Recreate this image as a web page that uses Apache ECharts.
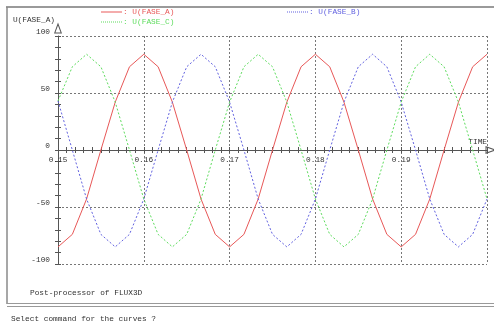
<!DOCTYPE html>
<html><head><meta charset="utf-8">
<script src="https://cdn.jsdelivr.net/npm/echarts@6/dist/echarts.min.js"></script>
<style>html,body{margin:0;padding:0;background:#fff}#c{width:494px;height:326px}</style>
</head><body><div id="c"></div>
<script>
// Sample times (s)
const times = [0.15,0.15167,0.15333,0.155,0.15667,0.15833,0.16,0.16167,0.16333,0.165,0.16667,0.16833,
  0.17,0.17167,0.17333,0.175,0.17667,0.17833,0.18,0.18167,0.18333,0.185,0.18667,0.18833,
  0.19,0.19167,0.19333,0.195,0.19667,0.19833,0.2];
// Phase voltages
const faseA = [-85,-74,-43,0,42,73,84,73,42,0,-43,-74,-85,-74,-43,0,42,73,84,73,42,0,-43,-74,-85,-74,-43,0,42,73,84];
const faseB = [43,0,-43,-74,-85,-74,-43,0,42,73,84,73,42,0,-43,-74,-85,-74,-43,0,42,73,84,73,42,0,-43,-74,-85,-74,-43];
const faseC = [43,73,84,73,42,0,-43,-74,-85,-74,-43,0,42,73,84,73,42,0,-43,-74,-85,-74,-43,0,42,73,84,73,42,0,-43];
const seriesNames = ['U(FASE_A)','U(FASE_B)','U(FASE_C)'];
const xRange = [0.15, 0.20], xStep = 0.01;
const yRange = [-100, 100], yStep = 50;
const xTitle = 'TIME', yTitle = 'U(FASE_A)';
const footer1 = 'Post-processor of FLUX3D';
const footer2 = 'Select command for the curves ?';

const MONO = '"Liberation Mono","DejaVu Sans Mono",monospace';
const FS = 7.8;
const TXT = '#333';
const AX = '#555';
const RED = '#e85858', GREEN = '#5edc5e', BLUE = '#6262e0';
const dash11 = 'path://M0,0h1v1h-1zM2,0h1v1h-1zM4,0h1v1h-1zM6,0h1v1h-1zM8,0h1v1h-1zM10,0h1v1h-1zM12,0h1v1h-1zM14,0h1v1h-1zM16,0h1v1h-1zM18,0h1v1h-1zM20,0h1v1h-1z';
const hollowArrow = 'path://M4,0L8,11L0,11Z M4,2.9L1.43,10L6.57,10Z';

// grid layout
const G = {left:58, right:7, top:36, bottom:62};
const plotH = 326 - G.top - G.bottom;
// x axis sits at y = 0 of the value range
const xAxisOffset = -plotH * (0 - yRange[0]) / (yRange[1] - yRange[0]);

function pairs(vals){ return times.map((t,i)=>[t, vals[i]]); }
function legend(name, color, icon, left, top){
  return {
    show:true, left:left, top:top, orient:'horizontal', selectedMode:false,
    itemWidth:21, itemHeight:1, symbolKeepAspect:false, padding:0,
    data:[{name:name, icon:icon, itemStyle:{color:color}, textStyle:{color:color}}],
    formatter: ': {name}',
    textStyle:{fontFamily:MONO, fontSize:FS, color:color, padding:[0,0,0,-4]}
  };
}
const chart = echarts.init(document.getElementById('c'), null, {renderer:'canvas'});
chart.setOption({
  animation:false,
  backgroundColor:'#fff',
  grid:{left:G.left, right:G.right, top:G.top, bottom:G.bottom, containLabel:false},
  legend:[
    legend(seriesNames[0], RED, 'rect', 101, 8),
    legend(seriesNames[2], GREEN, dash11, 101, 18),
    legend(seriesNames[1], BLUE, dash11, 287, 8)
  ],
  xAxis:[{
    type:'value', min:xRange[0], max:xRange[1], interval:xStep, position:'bottom', offset:xAxisOffset,
    axisLine:{show:true, onZero:false, lineStyle:{color:AX, width:1},
      symbol:['none',hollowArrow], symbolSize:[8,11], symbolOffset:[0,4]},
    axisTick:{show:true, inside:false, length:3, lineStyle:{color:AX}},
    minorTick:{show:true, splitNumber:10, length:3, lineStyle:{color:AX}},
    axisLabel:{show:true, fontFamily:MONO, fontSize:FS, color:TXT, margin:6, showMaxLabel:false, showMinLabel:true, hideOverlap:false},
    splitLine:{show:true, lineStyle:{type:[2,2], color:'#777', width:1}},
    minorSplitLine:{show:false},
    name:xTitle, nameLocation:'end', nameGap:0,
    nameTextStyle:{fontFamily:MONO, fontSize:FS, color:TXT, align:'right', verticalAlign:'bottom', padding:[0,0,4,0]}
  },{
    type:'value', min:xRange[0], max:xRange[1], interval:xStep, position:'bottom', offset:xAxisOffset,
    axisLine:{show:false, onZero:false},
    axisTick:{show:true, inside:true, length:3, lineStyle:{color:AX}},
    minorTick:{show:true, splitNumber:10, length:3, lineStyle:{color:AX}},
    axisLabel:{show:false}, splitLine:{show:false}
  }],
  yAxis:[{
    type:'value', min:yRange[0], max:yRange[1], interval:yStep, position:'left',
    axisLine:{show:true, onZero:false, lineStyle:{color:AX, width:1},
      symbol:['none',hollowArrow], symbolSize:[8,11], symbolOffset:[0,8]},
    axisTick:{show:true, inside:false, length:3, lineStyle:{color:AX}},
    minorTick:{show:true, splitNumber:5, length:3, lineStyle:{color:AX}},
    axisLabel:{show:true, fontFamily:MONO, fontSize:FS, color:TXT, margin:8, verticalAlign:'bottom', hideOverlap:false},
    splitLine:{show:true, lineStyle:{type:[2,2], color:'#777', width:1}},
    name:yTitle, nameLocation:'end', nameGap:12,
    nameTextStyle:{fontFamily:MONO, fontSize:FS, color:TXT, align:'right', verticalAlign:'bottom', padding:[0,3,0,0]}
  },{
    type:'value', min:yRange[0], max:yRange[1], interval:yStep, position:'left',
    axisLine:{show:false, onZero:false},
    axisTick:{show:true, inside:true, length:3, lineStyle:{color:AX}},
    minorTick:{show:true, splitNumber:5, length:3, lineStyle:{color:AX}},
    axisLabel:{show:false}, splitLine:{show:false}
  }],
  series:[
    {name:seriesNames[0], type:'line', data:pairs(faseA), symbol:'none', showSymbol:false, color:RED,
      lineStyle:{color:RED, width:1, type:'solid'}, z:3},
    {name:seriesNames[1], type:'line', data:pairs(faseB), symbol:'none', showSymbol:false, color:BLUE,
      lineStyle:{color:BLUE, width:1, type:[2,2]}, z:3},
    {name:seriesNames[2], type:'line', data:pairs(faseC), symbol:'none', showSymbol:false, color:GREEN,
      lineStyle:{color:GREEN, width:1, type:[2,2]}, z:3}
  ],
  graphic:[
    {type:'line', silent:true, shape:{x1:6,y1:7,x2:494,y2:7}, style:{stroke:'#9a9a9a', lineWidth:2}},
    {type:'line', silent:true, shape:{x1:7,y1:7,x2:7,y2:304}, style:{stroke:'#8a8a8a', lineWidth:1.5}},
    {type:'line', silent:true, shape:{x1:7,y1:303.5,x2:494,y2:303.5}, style:{stroke:'#999', lineWidth:1}},
    {type:'line', silent:true, shape:{x1:7,y1:306.5,x2:494,y2:306.5}, style:{stroke:'#999', lineWidth:1}},
    {type:'text', silent:true, left:30, top:289, style:{text:footer1, fontFamily:MONO, fontSize:FS, fill:TXT}},
    {type:'text', silent:true, left:11, top:315, style:{text:footer2, fontFamily:MONO, fontSize:FS, fill:TXT}}
  ]
});
</script></body></html>
